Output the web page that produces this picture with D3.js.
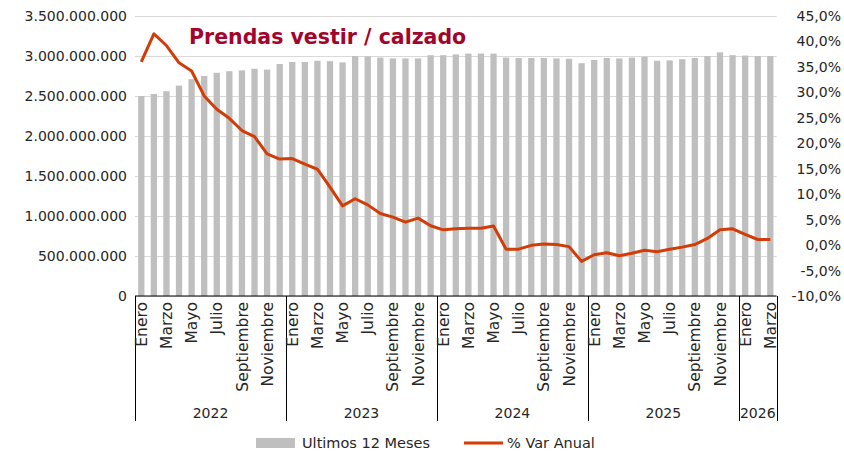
<!DOCTYPE html>
<html>
<head>
<meta charset="utf-8">
<script src="https://cdn.jsdelivr.net/npm/d3@7"></script>
<style>
  body { margin: 0; background: #fff; }
  svg text { font-family: "DejaVu Sans", sans-serif; fill: #262626; }
</style>
</head>
<body>
<svg id="chart" width="844" height="452"></svg>
<script>
//Data -----------
const years = [2022, 2023, 2024, 2025, 2026];
const monthsPerYear = [12, 12, 12, 12, 3];
const monthNames = ["Enero", "Febrero", "Marzo", "Abril", "Mayo", "Junio", "Julio",
  "Agosto", "Septiembre", "Octubre", "Noviembre", "Diciembre"];

//Ultimos 12 meses (bars, left axis)
const ultimos12 = [
  2.50e9, 2.525e9, 2.56e9, 2.63e9, 2.71e9, 2.75e9, 2.79e9, 2.81e9, 2.82e9, 2.84e9, 2.83e9, 2.90e9,
  2.925e9, 2.925e9, 2.94e9, 2.935e9, 2.92e9, 3.00e9, 2.995e9, 2.98e9, 2.97e9, 2.97e9, 2.97e9, 3.01e9,
  3.01e9, 3.02e9, 3.03e9, 3.03e9, 3.03e9, 2.98e9, 2.975e9, 2.975e9, 2.975e9, 2.97e9, 2.965e9, 2.91e9,
  2.95e9, 2.975e9, 2.97e9, 2.98e9, 2.99e9, 2.94e9, 2.945e9, 2.96e9, 2.975e9, 3.00e9, 3.045e9, 3.01e9,
  3.005e9, 3.00e9, 3.00e9
];

//% Var Anual (line, right axis)
const varAnual = [
  36.0, 41.5, 39.2, 35.8, 34.2, 29.3, 26.7, 24.9, 22.5, 21.3, 17.9, 16.9,
  17.0, 15.9, 14.9, 11.4, 7.7, 9.1, 7.9, 6.2, 5.5, 4.5, 5.3, 3.8,
  3.0, 3.2, 3.3, 3.3, 3.75, -0.8, -0.8, -0.05, 0.2, 0.1, -0.3, -3.2,
  -1.9, -1.5, -2.1, -1.6, -1.0, -1.3, -0.8, -0.4, 0.1, 1.3, 3.0, 3.2,
  2.1, 1.1, 1.1
];

const leftTicks = [0, 5e8, 1e9, 1.5e9, 2e9, 2.5e9, 3e9, 3.5e9];
const rightTicks = [-10, -5, 0, 5, 10, 15, 20, 25, 30, 35, 40, 45];

//Build categories from years + months
const categories = [];
years.forEach((yr, i) => {
  for (let m = 0; m < monthsPerYear[i]; m++) {
    categories.push({ key: yr + "-" + m, year: yr, month: m, label: monthNames[m] });
  }
});
const data = categories.map((c, i) => ({ ...c, bar: ultimos12[i], pct: varAnual[i] }));

//Layout ---------
const plot = { left: 135, right: 776.6, top: 16, bottom: 296 };
const svg = d3.select("#chart");

const locale = d3.formatLocale({ decimal: ",", thousands: ".", grouping: [3], currency: ["", ""], minus: "-" });
const fmtLeft = locale.format(",.0f");
const fmtRight = (d) => locale.format(".1f")(d) + "%";

const x = d3.scaleBand()
  .domain(data.map((d) => d.key))
  .range([plot.left, plot.right])
  .paddingInner(0.5)
  .paddingOuter(0.25);

const yLeft = d3.scaleLinear().domain([0, 3.5e9]).range([plot.bottom, plot.top]);
const yRight = d3.scaleLinear().domain([-10, 45]).range([plot.bottom, plot.top]);

//Gridlines
svg.append("g")
  .attr("class", "grid")
  .attr("transform", `translate(${plot.left},0)`)
  .call(d3.axisLeft(yLeft).tickValues(leftTicks).tickSize(-(plot.right - plot.left)).tickFormat(""))
  .call((g) => g.select(".domain").remove())
  .call((g) => g.selectAll("line").attr("stroke", "#d9d9d9").attr("stroke-width", 1));

//Bars
svg.append("g")
  .selectAll("rect")
  .data(data)
  .join("rect")
  .attr("x", (d) => x(d.key))
  .attr("width", x.bandwidth())
  .attr("y", (d) => yLeft(d.bar))
  .attr("height", (d) => yLeft(0) - yLeft(d.bar))
  .attr("fill", "#bfbfbf");

//Line
const line = d3.line()
  .x((d) => x(d.key) + x.bandwidth() / 2)
  .y((d) => yRight(d.pct));

svg.append("path")
  .datum(data)
  .attr("d", line)
  .attr("fill", "none")
  .attr("stroke", "#d23c06")
  .attr("stroke-width", 3)
  .attr("stroke-linejoin", "round");

//Left axis labels
svg.append("g")
  .attr("transform", `translate(127,0)`)
  .call(d3.axisLeft(yLeft).tickValues(leftTicks).tickSize(0).tickPadding(0).tickFormat(fmtLeft))
  .call((g) => g.select(".domain").remove())
  .call((g) => g.selectAll("text").attr("font-size", 14).attr("font-family", null));

//Right axis labels
svg.append("g")
  .attr("transform", `translate(841,0)`)
  .call(d3.axisLeft(yRight).tickValues(rightTicks).tickSize(0).tickPadding(0).tickFormat(fmtRight))
  .call((g) => g.select(".domain").remove())
  .call((g) => g.selectAll("text").attr("font-size", 14).attr("font-family", null));

//X axis: baseline, separators, month + year labels
const step = x.step();
const x0 = plot.left;
svg.append("line")
  .attr("x1", plot.left).attr("x2", plot.right)
  .attr("y1", plot.bottom).attr("y2", plot.bottom)
  .attr("stroke", "#000").attr("stroke-width", 1);

//year boundaries
let idx = 0;
const bounds = [0];
monthsPerYear.forEach((n) => { idx += n; bounds.push(idx); });

svg.append("g")
  .selectAll("line")
  .data(bounds)
  .join("line")
  .attr("x1", (b) => Math.round(x0 + b * step) + 0.5)
  .attr("x2", (b) => Math.round(x0 + b * step) + 0.5)
  .attr("y1", plot.bottom)
  .attr("y2", 421)
  .attr("stroke", "#000")
  .attr("stroke-width", 1);

svg.append("g")
  .selectAll("text")
  .data(data.filter((d) => d.month % 2 === 0))
  .join("text")
  .attr("transform", (d) => `translate(${x(d.key) + x.bandwidth() / 2},302) rotate(-90)`)
  .attr("text-anchor", "end")
  .attr("dy", "0.36em")
  .attr("font-size", 15.5)
  .text((d) => d.label);

svg.append("g")
  .selectAll("text")
  .data(years)
  .join("text")
  .attr("x", (yr, i) => x0 + (bounds[i] + bounds[i + 1]) / 2 * step)
  .attr("y", 418)
  .attr("text-anchor", "middle")
  .attr("font-size", 14)
  .text((yr) => yr);

//Title
svg.append("text")
  .attr("x", 189)
  .attr("y", 44)
  .attr("font-size", 20.5)
  .attr("font-weight", "bold")
  .style("fill", "#a3042c")
  .text("Prendas vestir / calzado");

//Legend
const legend = svg.append("g");
legend.append("rect")
  .attr("x", 256).attr("y", 438).attr("width", 39).attr("height", 10)
  .attr("fill", "#bfbfbf");
legend.append("text")
  .attr("x", 302).attr("y", 443).attr("dy", "0.36em")
  .attr("font-size", 14.5)
  .text("Ultimos 12 Meses");
legend.append("line")
  .attr("x1", 464).attr("x2", 503).attr("y1", 443).attr("y2", 443)
  .attr("stroke", "#d23c06").attr("stroke-width", 3);
legend.append("text")
  .attr("x", 507).attr("y", 443).attr("dy", "0.36em")
  .attr("font-size", 14.5)
  .text("% Var Anual");
</script>
</body>
</html>
